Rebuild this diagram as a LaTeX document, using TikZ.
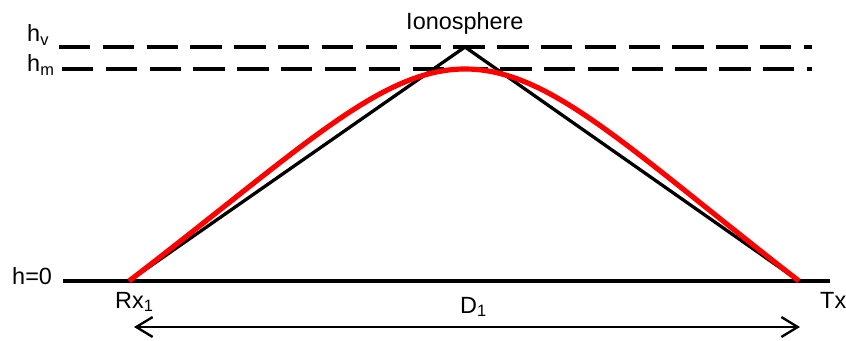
\documentclass[tikz,border=0pt]{standalone}
\usepackage{fontspec}
\setmainfont{Liberation Sans}
\usetikzlibrary{positioning, arrows.meta, calc}
\definecolor{rayred}{RGB}{255, 0, 0}

\begin{document}
\begin{tikzpicture}[x=0.03cm, y=-0.03cm,
    lbl/.style={font=\fontsize{20}{24}\selectfont, inner sep=0pt, anchor=base west},
    layerline/.style={line width=3pt, dash pattern=on 26.8pt off 10.6pt},
    groundline/.style={line width=3pt},
    pathline/.style={line width=2.8pt, line join=miter},
    rayline/.style={rayred, line width=4.4pt},
    distline/.style={line width=2pt, {Straight Barb[length=14pt, width=17pt, line width=2pt]}-{Straight Barb[length=14pt, width=17pt, line width=2pt]}}]
  \useasboundingbox (0,0) rectangle (846,341);

  % reference heights and ends
  \coordinate (hvstart) at (59,47);
  \coordinate (hvend) at (812,47);
  \coordinate (hmstart) at (62,69);
  \coordinate (hmend) at (812,69);
  \coordinate (gndstart) at (63,281);
  \coordinate (gndend) at (830,281);
  \coordinate (rx) at (129,281);
  \coordinate (tx) at (799,281);
  \coordinate (apex) at (465,47);
  \coordinate (top) at (465,69);
  \coordinate (dleft) at (134,327);
  \coordinate (dright) at (800,327);

  % dashed ionosphere layers and ground
  \draw[layerline] (hvstart) -- (hvend);
  \draw[layerline] (hmstart) -- (hmend);
  \draw[groundline] (gndstart) -- (gndend);

  % virtual reflection path and real ray
  \draw[pathline] (rx) -- (apex) -- (tx);
  \draw[rayline] (rx) .. controls (300,150) and (380,69) .. (top)
                      .. controls (550,69) and (630,150) .. (tx);

  % ground distance
  \draw[distline] (dleft) -- (dright);

  % labels
  \node[lbl] (ionolbl) at (406,30) {Ionosphere};
  \node[lbl] (hvlbl) at (27,42) {h\textsubscript{v}};
  \node[lbl] (hmlbl) at (27,72) {h\textsubscript{m}};
  \node[lbl] (gndlbl) at (12,284) {h=0};
  \node[lbl] (rxlbl) at (115,308) {Rx\textsubscript{1}};
  \node[lbl] (txlbl) at (820,308) {Tx};
  \node[lbl] (dlbl) at (460,313) {D\textsubscript{1}};
\end{tikzpicture}
\end{document}
